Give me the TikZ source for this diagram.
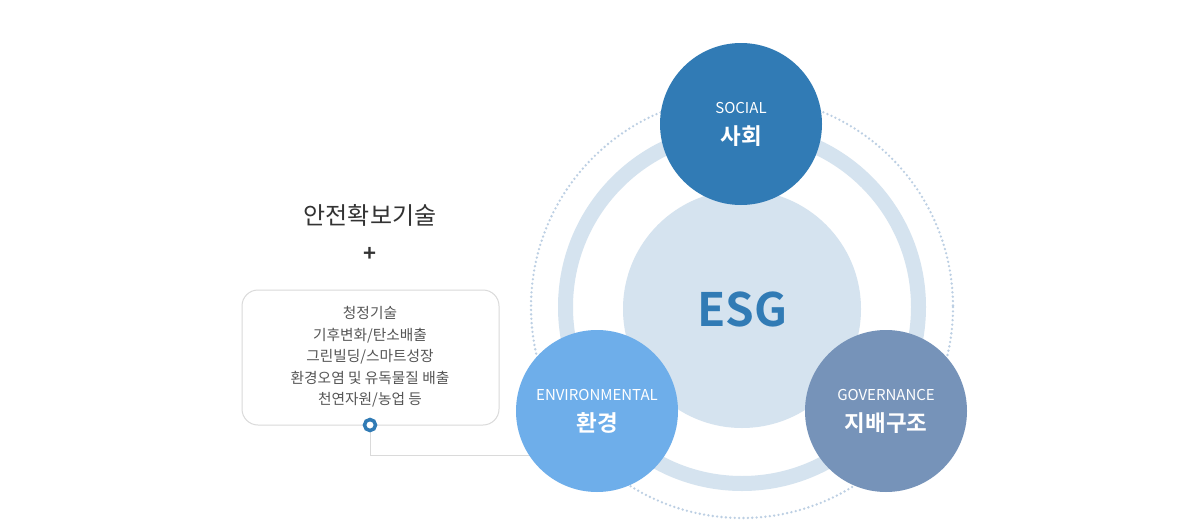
\documentclass[tikz,border=0pt]{standalone}
\usepackage{fontspec}
\setmainfont{Noto Sans CJK KR}
\newfontfamily\krbold{Noto Sans CJK KR Bold}
\definecolor{socialc}{HTML}{317BB5}
\definecolor{envc}{HTML}{6EAEEA}
\definecolor{govc}{HTML}{7693B9}
\definecolor{esgc}{HTML}{D5E3EF}
\definecolor{dotc}{HTML}{BCCFE3}
\definecolor{boxc}{HTML}{DADADA}
\definecolor{txtc}{HTML}{555555}
\definecolor{ttlc}{HTML}{333333}
\begin{document}
\begin{tikzpicture}[x=1pt,y=-1pt,
  pillar/.style={circle,minimum size=162pt,inner sep=0pt},
  small/.style={text=white,font=\fontsize{15}{17}\selectfont},
  big/.style={text=white,font=\krbold\fontsize{22.5}{26}\selectfont},
  ringdot/.style={draw=socialc,line width=3.5pt,circle,fill=white,minimum size=11pt,inner sep=0pt}]
\useasboundingbox (0,0) rectangle (1200,525);
\fill[white] (0,0) rectangle (1200,525);
% outer dotted circle
\draw[dotc,line width=2.6pt,line cap=round,dash pattern=on 0pt off 4.4pt] (742,307) circle (211);
% thick ring
\draw[esgc,line width=15pt] (742,307) circle (176.5);
% centre
\node[circle,fill=esgc,minimum size=238pt,inner sep=0pt,text=socialc,font=\krbold\fontsize{46}{50}\selectfont] (esg) at (742,309) {ESG};
% connector
\coordinate (dotpos) at (370,425);
\coordinate (bend) at (370,455);
\coordinate (envend) at (540,455);
\draw[boxc,line width=1pt] (dotpos) -- (bend) -- (envend);
% pillars
\node[pillar,fill=socialc] (social) at (741,124) {};
\node[small] (socialen) at (741,108) {SOCIAL};
\node[big] (socialkr) at (741,136) {사회};
\node[pillar,fill=envc] (env) at (597,411) {};
\node[small] (envEn) at (597,395) {ENVIRONMENTAL};
\node[big] (envkr) at (597,423) {환경};
\node[pillar,fill=govc] (gov) at (886,411) {};
\node[small] (goven) at (886,395) {GOVERNANCE};
\node[big] (govkr) at (886,423) {지배구조};
% left side
\node[text=ttlc,font=\fontsize{24}{26}\selectfont] (title) at (370,215) {안전확보기술};
\node[text=ttlc,font=\krbold\fontsize{22}{24}\selectfont] (plus) at (370,254) {+};
\draw[boxc,line width=1pt,rounded corners=16pt] (242,290) rectangle (499,425);
\node[text=txtc,align=center,font=\fontsize{14.7}{21.5}\selectfont] (list) at (370,357) {청정기술\\기후변화/탄소배출\\그린빌딩/스마트성장\\환경오염 및 유독물질 배출\\천연자원/농업 등};
\node[ringdot] (dot) at (dotpos) {};
\end{tikzpicture}
\end{document}
